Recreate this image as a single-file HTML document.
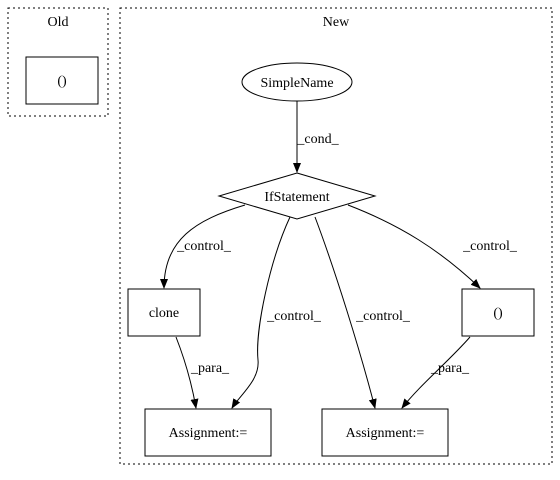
<!DOCTYPE html>
<html><head><style>body{margin:0;background:#fff}svg{display:block}text{font-family:"Liberation Serif",serif;font-size:14px;fill:#000}</style></head>
<body>
<svg width="560" height="480" viewBox="0 0 560 480">
<defs><marker id="a" markerWidth="10" markerHeight="8" refX="9" refY="4" orient="auto" markerUnits="userSpaceOnUse"><path d="M0,0 L10,4 L0,8 z" fill="#000"/></marker></defs>
<rect x="8" y="8" width="100" height="108" fill="none" stroke="#000" stroke-dasharray="2,3"/>
<text x="58" y="26" text-anchor="middle">Old</text>
<rect x="26" y="57" width="72" height="47" fill="none" stroke="#000"/>
<text x="62" y="85" text-anchor="middle">()</text>
<rect x="120" y="8" width="432" height="456" fill="none" stroke="#000" stroke-dasharray="2,3"/>
<text x="336" y="26" text-anchor="middle">New</text>
<ellipse cx="297" cy="82" rx="55" ry="19" fill="none" stroke="#000"/>
<text x="297" y="87" text-anchor="middle">SimpleName</text>
<path d="M297,101 L297,172" stroke="#000" fill="none" marker-end="url(#a)"/>
<text x="318" y="143" text-anchor="middle">_cond_</text>
<polygon points="297,173 375,196 297,219 219,196" fill="none" stroke="#000"/>
<text x="297" y="201" text-anchor="middle">IfStatement</text>
<rect x="128" y="289" width="72" height="47" fill="none" stroke="#000"/>
<text x="164" y="317" text-anchor="middle">clone</text>
<rect x="462" y="289" width="72" height="47" fill="none" stroke="#000"/>
<text x="498" y="317" text-anchor="middle">()</text>
<rect x="145" y="409" width="126" height="47" fill="none" stroke="#000"/>
<text x="208" y="437" text-anchor="middle">Assignment:=</text>
<rect x="322" y="409" width="126" height="47" fill="none" stroke="#000"/>
<text x="385" y="437" text-anchor="middle">Assignment:=</text>
<path d="M245,205 C195,220 164,240 164,288" stroke="#000" fill="none" marker-end="url(#a)"/>
<text x="204" y="250" text-anchor="middle">_control_</text>
<path d="M290,217 C270,260 255,330 258,360 C260,380 240,395 232,408" stroke="#000" fill="none" marker-end="url(#a)"/>
<text x="294" y="320" text-anchor="middle">_control_</text>
<path d="M315,217 C335,270 360,350 375,408" stroke="#000" fill="none" marker-end="url(#a)"/>
<text x="383" y="320" text-anchor="middle">_control_</text>
<path d="M348,205 C400,225 440,250 480,288" stroke="#000" fill="none" marker-end="url(#a)"/>
<text x="490" y="250" text-anchor="middle">_control_</text>
<path d="M176,337 C185,360 192,385 196,408" stroke="#000" fill="none" marker-end="url(#a)"/>
<text x="210" y="372" text-anchor="middle">_para_</text>
<path d="M470,337 C450,360 420,385 402,408" stroke="#000" fill="none" marker-end="url(#a)"/>
<text x="450" y="372" text-anchor="middle">_para_</text>
</svg>
</body></html>
